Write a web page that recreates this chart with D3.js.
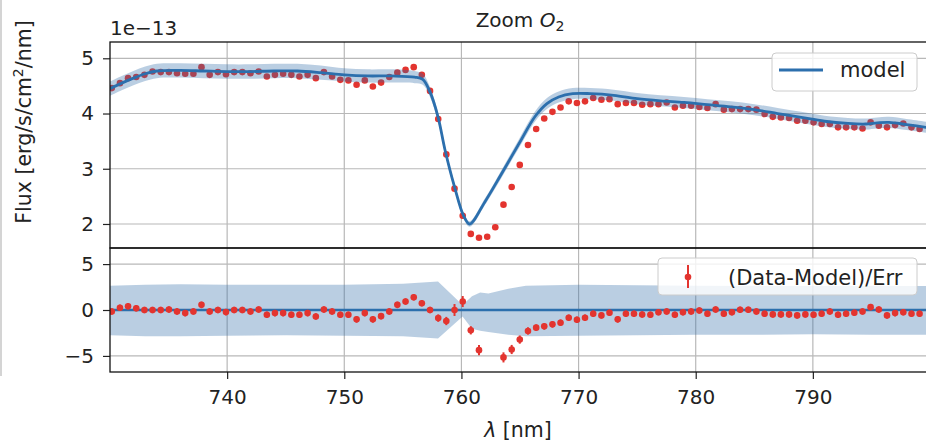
<!DOCTYPE html>
<html>
<head>
<meta charset="utf-8">
<script src="https://cdn.jsdelivr.net/npm/d3@7"></script>
<style>
  body { margin: 0; background: #fff; }
  text { font-family: "DejaVu Sans", sans-serif; fill: #222; }
</style>
</head>
<body>
<div id="chart"></div>
<script>
// wavelength of each data bin [nm]
const lambda = [
  730.15, 730.85, 731.54, 732.24, 732.94, 733.63, 734.33, 735.03, 735.72, 736.42,
  737.12, 737.81, 738.51, 739.21, 739.90, 740.60, 741.30, 741.99, 742.69, 743.39,
  744.08, 744.78, 745.48, 746.17, 746.87, 747.57, 748.26, 748.96, 749.66, 750.35,
  751.05, 751.75, 752.44, 753.14, 753.84, 754.53, 755.23, 755.93, 756.62, 757.32,
  758.02, 758.71, 759.41, 760.11, 760.80, 761.50, 762.20, 762.89, 763.59, 764.29,
  764.98, 765.68, 766.38, 767.07, 767.77, 768.46, 769.16, 769.86, 770.55, 771.25,
  771.95, 772.64, 773.34, 774.04, 774.73, 775.43, 776.13, 776.82, 777.52, 778.22,
  778.91, 779.61, 780.31, 781.00, 781.70, 782.40, 783.09, 783.79, 784.49, 785.18,
  785.88, 786.58, 787.27, 787.97, 788.66, 789.36, 790.06, 790.75, 791.45, 792.15,
  792.84, 793.54, 794.24, 794.93, 795.63, 796.33, 797.02, 797.72, 798.42, 799.11
];

// measured flux, units of 1e-13 erg/s/cm2/nm
const flux = [
  4.46, 4.55, 4.64, 4.66, 4.70, 4.76, 4.75, 4.75, 4.73, 4.72,
  4.72, 4.84, 4.70, 4.75, 4.71, 4.75, 4.75, 4.73, 4.76, 4.67,
  4.70, 4.72, 4.70, 4.67, 4.70, 4.64, 4.75, 4.67, 4.61, 4.60,
  4.52, 4.60, 4.49, 4.56, 4.66, 4.74, 4.79, 4.84, 4.70, 4.41,
  3.90, 3.26, 2.64, 2.15, 1.82, 1.75, 1.77, 1.94, 2.35, 2.67,
  3.07, 3.43, 3.72, 3.91, 4.03, 4.11, 4.22, 4.19, 4.22, 4.28,
  4.25, 4.26, 4.17, 4.19, 4.19, 4.16, 4.17, 4.17, 4.20, 4.11,
  4.14, 4.14, 4.12, 4.10, 4.17, 4.07, 4.08, 4.08, 4.08, 4.07,
  3.99, 3.94, 3.93, 3.92, 3.87, 3.87, 3.84, 3.81, 3.81, 3.75,
  3.75, 3.75, 3.73, 3.84, 3.78, 3.75, 3.79, 3.82, 3.75, 3.72
];

// (data - model) / err ; null = off the plotted range
const resid = [
  -0.16, 0.24, 0.41, 0.19, 0.00, 0.00, 0.00, 0.05, -0.16, -0.34,
  -0.16, 0.56, -0.16, 0.00, -0.23, 0.00, 0.00, -0.16, 0.05, -0.52,
  -0.34, -0.34, -0.52, -0.52, -0.34, -0.70, 0.05, -0.16, -0.52, -0.52,
  -1.02, -0.34, -1.02, -0.67, -0.16, 0.56, 0.92, 1.38, 0.74, 0.00,
  -0.88, -1.20, 0.00, 0.92, -2.21, -4.37, null, null, -5.16, -4.30,
  -3.22, -2.28, -1.92, -1.78, -1.56, -1.38, -0.84, -1.06, -0.84, -0.41,
  -0.59, -0.30, -1.02, -0.41, -0.41, -0.49, -0.52, -0.24, -0.16, -0.52,
  -0.24, -0.16, -0.05, -0.41, 0.05, -0.41, -0.24, 0.02, 0.02, -0.16,
  -0.41, -0.48, -0.48, -0.48, -0.59, -0.48, -0.52, -0.41, -0.16, -0.52,
  -0.41, -0.30, -0.16, 0.31, 0.05, -0.59, -0.34, -0.24, -0.41, -0.41
];

const residErr = [
  0.35, 0.35, 0.35, 0.35, 0.35, 0.35, 0.35, 0.35, 0.35, 0.35,
  0.35, 0.35, 0.35, 0.35, 0.35, 0.35, 0.35, 0.35, 0.35, 0.35,
  0.35, 0.35, 0.35, 0.35, 0.35, 0.35, 0.35, 0.35, 0.35, 0.35,
  0.35, 0.35, 0.35, 0.35, 0.35, 0.35, 0.35, 0.35, 0.35, 0.35,
  0.40, 0.45, 0.65, 0.60, 0.45, 0.55, 0.55, 0.55, 0.55, 0.50,
  0.45, 0.40, 0.35, 0.35, 0.35, 0.35, 0.35, 0.35, 0.35, 0.35,
  0.35, 0.35, 0.35, 0.35, 0.35, 0.35, 0.35, 0.35, 0.35, 0.35,
  0.35, 0.35, 0.35, 0.35, 0.35, 0.35, 0.35, 0.35, 0.35, 0.35,
  0.35, 0.35, 0.35, 0.35, 0.35, 0.35, 0.35, 0.35, 0.35, 0.35,
  0.35, 0.35, 0.35, 0.35, 0.35, 0.35, 0.35, 0.35, 0.35, 0.35
];

// model curve and its uncertainty
const modelLambda = [730.0, 731.0, 732.0, 733.0, 734.0, 736.0, 738.0, 740.0, 742.0, 744.0,
  746.0, 748.0, 750.0, 752.0, 754.0, 756.0, 756.7, 757.3, 758.0, 758.6,
  759.4, 760.2, 760.7, 762.0, 763.4, 764.9, 766.3, 767.3, 768.3, 769.5,
  771.0, 773.0, 775.0, 777.0, 779.0, 781.0, 783.0, 785.0, 787.0, 789.0,
  791.0, 793.0, 794.5, 795.5, 796.5, 798.0, 800.0];
const modelFlux = [4.45, 4.55, 4.64, 4.72, 4.77, 4.78, 4.77, 4.76, 4.76, 4.77,
  4.77, 4.74, 4.70, 4.68, 4.68, 4.66, 4.62, 4.40, 3.94, 3.34,
  2.68, 2.14, 2.00, 2.40, 2.90, 3.45, 3.95, 4.18, 4.30, 4.36,
  4.36, 4.33, 4.27, 4.23, 4.20, 4.16, 4.12, 4.07, 4.00, 3.93,
  3.86, 3.82, 3.81, 3.83, 3.84, 3.80, 3.74];
const modelErr = [0.13, 0.13, 0.13, 0.13, 0.13, 0.13, 0.13, 0.13, 0.13, 0.13,
  0.13, 0.13, 0.12, 0.12, 0.12, 0.11, 0.10, 0.09, 0.08, 0.07,
  0.06, 0.05, 0.05, 0.06, 0.07, 0.08, 0.09, 0.10, 0.10, 0.10,
  0.10, 0.10, 0.10, 0.10, 0.10, 0.10, 0.10, 0.10, 0.10, 0.10,
  0.10, 0.10, 0.10, 0.10, 0.10, 0.10, 0.10];

// model uncertainty band in residual units
const bandLambda = [730, 733, 736, 740, 745, 750, 755, 758.0, 760.1, 760.9, 761.6, 762.3, 764.0, 765.5, 770, 775, 780, 785, 790, 795, 800];
const bandLow  = [-2.75, -2.85, -2.85, -2.8, -2.75, -2.8, -2.85, -3.1, -0.7, -2.05, -2.25, -2.4, -2.7, -2.85, -2.8, -2.75, -2.7, -2.7, -2.65, -2.7, -2.7];
const bandHigh = [2.65, 2.75, 2.8, 2.75, 2.75, 2.75, 2.85, 3.1, 0.55, 1.5, 1.9, 1.8, 2.3, 2.65, 2.75, 2.7, 2.65, 2.6, 2.6, 2.6, 2.6];

const xTicks = [740, 750, 760, 770, 780, 790];
const yTopTicks = [2, 3, 4, 5];
const yBotTicks = [-5, 0, 5];

// layout
const width = 926, height = 442;
const plotLeft = 110, plotRight = 930;
const topY0 = 42, topY1 = 248, botY0 = 248, botY1 = 372;

const blue = "#2c6fad";
const bandColor = "#2f6aa6";
const red = "#e3342f";

const svg = d3.select("#chart").append("svg")
    .attr("width", width)
    .attr("height", height);

// faint frame at the left edge of the screenshot
svg.append("line")
    .attr("x1", 1).attr("x2", 1).attr("y1", 0).attr("y2", 376)
    .attr("stroke", "#d4d4d4").attr("stroke-width", 2);

const x = d3.scaleLinear().domain([730, 800]).range([plotLeft, plotRight]);
const yTop = d3.scaleLinear().domain([1.565, 5.295]).range([topY1, topY0]);
const yBot = d3.scaleLinear().domain([-6.75, 6.75]).range([botY1, botY0]);

const defs = svg.append("defs");
defs.append("clipPath").attr("id", "clipTop").append("rect")
    .attr("x", plotLeft).attr("y", topY0).attr("width", plotRight - plotLeft).attr("height", topY1 - topY0);
defs.append("clipPath").attr("id", "clipBot").append("rect")
    .attr("x", plotLeft).attr("y", botY0).attr("width", plotRight - plotLeft).attr("height", botY1 - botY0);

function grid(g, yScale, yTicks, y0, y1) {
    g.selectAll(".vgrid").data(xTicks).enter().append("line")
        .attr("x1", d => x(d)).attr("x2", d => x(d))
        .attr("y1", y0).attr("y2", y1)
        .attr("stroke", "#b8b8b8").attr("stroke-width", 1.2);
    g.selectAll(".hgrid").data(yTicks).enter().append("line")
        .attr("x1", plotLeft).attr("x2", plotRight)
        .attr("y1", d => yScale(d)).attr("y2", d => yScale(d))
        .attr("stroke", "#b8b8b8").attr("stroke-width", 1.2);
}

// ---------- top panel ----------
const gTop = svg.append("g").attr("clip-path", "url(#clipTop)");
grid(gTop, yTop, yTopTicks, topY0, topY1);

const fluxPts = lambda.map((l, i) => ({ l: l, f: flux[i] }));
gTop.selectAll(".dot").data(fluxPts).enter().append("circle")
    .attr("cx", d => x(d.l))
    .attr("cy", d => yTop(d.f))
    .attr("r", 3.3)
    .attr("fill", red);

const modelPts = modelLambda.map((l, i) => ({ l: l, f: modelFlux[i], e: modelErr[i] }));
gTop.append("path")
    .datum(modelPts)
    .attr("d", d3.area()
        .curve(d3.curveCatmullRom.alpha(0.5))
        .x(d => x(d.l))
        .y0(d => yTop(d.f - d.e))
        .y1(d => yTop(d.f + d.e)))
    .attr("fill", bandColor)
    .attr("fill-opacity", 0.33);

gTop.append("path")
    .datum(modelPts)
    .attr("d", d3.line()
        .curve(d3.curveCatmullRom.alpha(0.5))
        .x(d => x(d.l))
        .y(d => yTop(d.f)))
    .attr("fill", "none")
    .attr("stroke", blue)
    .attr("stroke-width", 2.8);

// ---------- bottom panel ----------
const gBot = svg.append("g").attr("clip-path", "url(#clipBot)");
grid(gBot, yBot, yBotTicks, botY0, botY1);

const bandPts = bandLambda.map((l, i) => ({ l: l, lo: bandLow[i], hi: bandHigh[i] }));
gBot.append("path")
    .datum(bandPts)
    .attr("d", d3.area()
        .x(d => x(d.l))
        .y0(d => yBot(d.lo))
        .y1(d => yBot(d.hi)))
    .attr("fill", bandColor)
    .attr("fill-opacity", 0.33);

gBot.append("line")
    .attr("x1", plotLeft).attr("x2", plotRight)
    .attr("y1", yBot(0)).attr("y2", yBot(0))
    .attr("stroke", blue).attr("stroke-width", 2.5);

const residPts = lambda.map((l, i) => ({ l: l, r: resid[i], e: residErr[i] }))
    .filter(d => d.r !== null);

gBot.selectAll(".ebar").data(residPts).enter().append("line")
    .attr("x1", d => x(d.l)).attr("x2", d => x(d.l))
    .attr("y1", d => yBot(d.r - d.e)).attr("y2", d => yBot(d.r + d.e))
    .attr("stroke", red).attr("stroke-width", 2);

gBot.selectAll(".rdot").data(residPts).enter().append("circle")
    .attr("cx", d => x(d.l))
    .attr("cy", d => yBot(d.r))
    .attr("r", 3.3)
    .attr("fill", red);

// ---------- axes ----------
function styleAxis(g) {
    g.select(".domain").remove();
    g.selectAll(".tick line").attr("stroke", "#222").attr("stroke-width", 1.2);
    g.selectAll(".tick text").attr("font-size", 20).attr("fill", "#222")
        .style("font-family", "'DejaVu Sans', sans-serif");
}

svg.append("g")
    .attr("transform", `translate(${plotLeft},0)`)
    .call(d3.axisLeft(yTop).tickValues(yTopTicks).tickSize(7).tickPadding(9).tickFormat(d3.format("d")))
    .call(styleAxis);

svg.append("g")
    .attr("transform", `translate(${plotLeft},0)`)
    .call(d3.axisLeft(yBot).tickValues(yBotTicks).tickSize(7).tickPadding(9).tickFormat(d3.format("d")))
    .call(styleAxis);

svg.append("g")
    .attr("transform", `translate(0,${botY1})`)
    .call(d3.axisBottom(x).tickValues(xTicks).tickSize(7).tickPadding(11).tickFormat(d3.format("d")))
    .call(styleAxis);

// spines
[[topY0, topY1], [botY0, botY1]].forEach(p => {
    svg.append("rect")
        .attr("x", plotLeft).attr("y", p[0])
        .attr("width", plotRight - plotLeft).attr("height", p[1] - p[0])
        .attr("fill", "none").attr("stroke", "#111").attr("stroke-width", 1.3);
});

// ---------- texts ----------
const title = svg.append("text")
    .attr("x", (plotLeft + plotRight) / 2).attr("y", 27)
    .attr("text-anchor", "middle").attr("font-size", 20);
title.append("tspan").text("Zoom ");
title.append("tspan").attr("font-style", "italic").text("O");
title.append("tspan").attr("font-size", 14).attr("dy", 4).text("2");

svg.append("text")
    .attr("x", plotLeft).attr("y", 35)
    .attr("font-size", 20)
    .text("1e\u221213");

const ylab = svg.append("text")
    .attr("transform", "translate(31,122) rotate(-90)")
    .attr("text-anchor", "middle").attr("font-size", 20.5);
ylab.append("tspan").text("Flux [erg/s/cm");
ylab.append("tspan").attr("font-size", 14).attr("dy", -8).text("2");
ylab.append("tspan").attr("dy", 8).text("/nm]");

const xlab = svg.append("text")
    .attr("x", 518).attr("y", 437)
    .attr("text-anchor", "middle").attr("font-size", 20.5);
xlab.append("tspan").attr("font-style", "italic").text("\u03bb");
xlab.append("tspan").text(" [nm]");

// ---------- legends ----------
const leg1 = svg.append("g");
leg1.append("rect")
    .attr("x", 772).attr("y", 53).attr("width", 145).attr("height", 38).attr("rx", 4)
    .attr("fill", "#fff").attr("fill-opacity", 0.8)
    .attr("stroke", "#cccccc").attr("stroke-width", 1);
leg1.append("line")
    .attr("x1", 779).attr("x2", 823).attr("y1", 70).attr("y2", 70)
    .attr("stroke", blue).attr("stroke-width", 2.8);
leg1.append("text")
    .attr("x", 840).attr("y", 77).attr("font-size", 21)
    .text("model");

const leg2 = svg.append("g");
leg2.append("rect")
    .attr("x", 658).attr("y", 258).attr("width", 259).attr("height", 37).attr("rx", 4)
    .attr("fill", "#fff").attr("fill-opacity", 0.8)
    .attr("stroke", "#cccccc").attr("stroke-width", 1);
leg2.append("line")
    .attr("x1", 688).attr("x2", 688).attr("y1", 265).attr("y2", 288)
    .attr("stroke", red).attr("stroke-width", 2);
leg2.append("circle")
    .attr("cx", 688).attr("cy", 277).attr("r", 3.3).attr("fill", red);
leg2.append("text")
    .attr("x", 728).attr("y", 285).attr("font-size", 21)
    .text("(Data-Model)/Err");
</script>
</body>
</html>
